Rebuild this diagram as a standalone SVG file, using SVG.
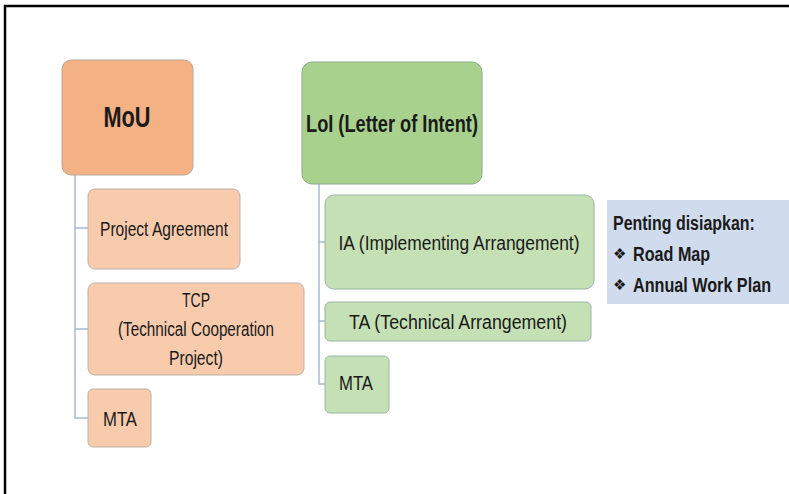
<svg xmlns="http://www.w3.org/2000/svg" width="789" height="494" viewBox="0 0 789 494">
<style>
text{font-family:"Liberation Sans Narrow","Liberation Sans",Arial,sans-serif;fill:#1a1a1a}
.b{font-weight:bold}
.o1{fill:#F4B183;stroke:#B8A89C;stroke-width:1}
.o2{fill:#F8CBAD;stroke:#BFB0A6;stroke-width:1}
.g1{fill:#A9D18E;stroke:#8FA98A;stroke-width:1}
.g2{fill:#C5E0B4;stroke:#9DB4A8;stroke-width:1}
.c{fill:none;stroke:#A8BCCF;stroke-width:1.5}
.m{font-size:20px;text-anchor:middle}
.bl{font-size:15px;font-family:"DejaVu Sans",sans-serif}
.p{font-size:21px;font-weight:bold}
</style>
<rect x="5" y="6" width="800" height="500" fill="none" stroke="#000" stroke-width="2.5"/>
<g id="connectors">
<path class="c" d="M75 175V418H88M75 228H88M75 329H88"/>
<path class="c" d="M319 184V384H325M319 242H325M319 321H325"/>
</g>
<g id="mou"><rect class="o1" x="62" y="60" width="131" height="115" rx="9"/><text class="b" x="127" y="127" font-size="29" text-anchor="middle" textLength="47" lengthAdjust="spacingAndGlyphs">MoU</text></g>
<g id="project-agreement"><rect class="o2" x="88" y="189" width="152" height="80" rx="7"/><text class="m" x="164" y="236" textLength="128" lengthAdjust="spacingAndGlyphs">Project Agreement</text></g>
<g id="tcp"><rect class="o2" x="88" y="283" width="216" height="92" rx="7"/>
<text class="m" x="196" y="307" textLength="28" lengthAdjust="spacingAndGlyphs">TCP</text>
<text class="m" x="196" y="336" textLength="156" lengthAdjust="spacingAndGlyphs">(Technical Cooperation</text>
<text class="m" x="196" y="365" textLength="54" lengthAdjust="spacingAndGlyphs">Project)</text></g>
<g id="mta-mou"><rect class="o2" x="88" y="389" width="63" height="58" rx="5"/><text class="m" x="120" y="426" textLength="34" lengthAdjust="spacingAndGlyphs">MTA</text></g>
<g id="loi"><rect class="g1" x="302" y="62" width="180" height="122" rx="10"/><text class="b" x="392" y="132" font-size="23" text-anchor="middle" textLength="172" lengthAdjust="spacingAndGlyphs">LoI (Letter of Intent)</text></g>
<g id="ia"><rect class="g2" x="325" y="195" width="269" height="94" rx="9"/><text class="m" x="459" y="250" textLength="241" lengthAdjust="spacingAndGlyphs">IA (Implementing Arrangement)</text></g>
<g id="ta"><rect class="g2" x="325" y="302" width="266" height="39" rx="5"/><text class="m" x="458" y="329" textLength="218" lengthAdjust="spacingAndGlyphs">TA (Technical Arrangement)</text></g>
<g id="mta-loi"><rect class="g2" x="325" y="356" width="64" height="57" rx="5"/><text class="m" x="356" y="390" textLength="34" lengthAdjust="spacingAndGlyphs">MTA</text></g>
<g id="penting"><rect x="607" y="200" width="182" height="104" fill="#D0DCEE"/>
<text class="p" transform="translate(613,230) scale(0.76,1)">Penting disiapkan:</text>
<text class="bl" x="613" y="259">❖</text>
<text class="p" transform="translate(633,261) scale(0.77,1)">Road Map</text>
<text class="bl" x="613" y="290">❖</text>
<text class="p" transform="translate(633,292) scale(0.77,1)">Annual Work Plan</text></g>
</svg>
